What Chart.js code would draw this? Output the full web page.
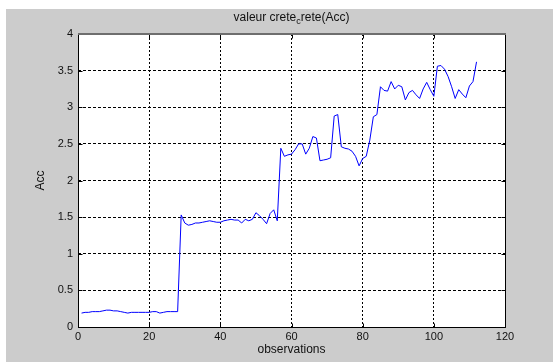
<!DOCTYPE html>
<html>
<head>
<meta charset="utf-8">
<script src="https://cdn.jsdelivr.net/npm/chart.js@4.4.1/dist/chart.umd.min.js"></script>
<style>
  html, body { margin: 0; padding: 0; background: #fff; }
  canvas { display: block; }
</style>
</head>
<body>
<canvas id="myChart" width="553" height="363"></canvas>
<script>
'use strict';

const observations = [
    1, 2, 3, 4, 5, 6, 7, 8, 9, 10, 11, 12, 13, 14, 15, 16, 17, 18, 19, 20,
    21, 22, 23, 24, 25, 26, 27, 28, 29, 30, 31, 32, 33, 34, 35, 36, 37, 38, 39, 40,
    41, 42, 43, 44, 45, 46, 47, 48, 49, 50, 51, 52, 53, 54, 55, 56, 57, 58, 59, 60,
    61, 62, 63, 64, 65, 66, 67, 68, 69, 70, 71, 72, 73, 74, 75, 76, 77, 78, 79, 80,
    81, 82, 83, 84, 85, 86, 87, 88, 89, 90, 91, 92, 93, 94, 95, 96, 97, 98, 99, 100,
    101, 102, 103, 104, 105, 106, 107, 108, 109, 110, 111, 112,
];

const acc = [
    0.19, 0.20, 0.20, 0.21, 0.21, 0.21, 0.22, 0.23, 0.23, 0.22,
    0.22, 0.21, 0.20, 0.19, 0.20, 0.20, 0.20, 0.20, 0.20, 0.20,
    0.21, 0.21, 0.19, 0.20, 0.21, 0.21, 0.21, 0.21,
    1.53, 1.42, 1.39, 1.40, 1.42, 1.42, 1.43, 1.44, 1.45, 1.44, 1.43, 1.43,
    1.45, 1.46, 1.47, 1.46, 1.46, 1.42, 1.47, 1.45, 1.47, 1.56,
    1.52, 1.47, 1.41, 1.55, 1.60, 1.45,
    2.44, 2.33, 2.35, 2.36, 2.42, 2.50, 2.50, 2.36, 2.44, 2.60, 2.58, 2.27, 2.28, 2.29,
    2.31, 2.88, 2.90, 2.46, 2.44, 2.43, 2.40, 2.33, 2.20, 2.30, 2.33, 2.55, 2.87, 2.90,
    3.28, 3.23, 3.22, 3.35, 3.25, 3.30, 3.28, 3.10, 3.20, 3.23, 3.17, 3.12, 3.25, 3.34, 3.24, 3.15,
    3.56, 3.57, 3.52, 3.42, 3.28, 3.12, 3.24, 3.18, 3.13, 3.29, 3.35, 3.62,
];

const xTicks = [0, 20, 40, 60, 80, 100, 120];
const yTicks = [0, 0.5, 1, 1.5, 2, 2.5, 3, 3.5, 4];

const FONT = '"Liberation Sans", Arial, sans-serif';

// grey figure window + white axes, like a matlab figure
const figureBackground = {
    id: 'figureBackground',
    beforeDraw(chart) {
        const { ctx, chartArea: a } = chart;
        ctx.save();
        ctx.fillStyle = '#ffffff';
        ctx.fillRect(0, 0, chart.width, chart.height);
        ctx.fillStyle = '#cccccc';
        ctx.fillRect(6, 9, chart.width - 6, chart.height - 10);
        ctx.fillStyle = '#ffffff';
        ctx.fillRect(a.left, a.top, a.right - a.left, a.bottom - a.top);
        ctx.restore();
    },
};

// box, inward ticks and the title with its subscript
const axesBox = {
    id: 'axesBox',
    afterDraw(chart) {
        const { ctx, chartArea: a, scales } = chart;
        const L = Math.round(a.left) + 0.5;
        const R = Math.round(a.right) + 0.5;
        const T = Math.round(a.top) + 0.5;
        const B = Math.round(a.bottom) + 0.5;
        const tl = 4;

        ctx.save();
        ctx.strokeStyle = '#000';
        ctx.lineWidth = 1;
        ctx.setLineDash([]);
        ctx.beginPath();
        ctx.moveTo(L, T); ctx.lineTo(L, B); ctx.lineTo(R, B); ctx.lineTo(R, T);
        xTicks.forEach(v => {
            const px = Math.round(scales.x.getPixelForValue(v)) + 0.5;
            ctx.moveTo(px, B); ctx.lineTo(px, B - tl);
            ctx.moveTo(px, T); ctx.lineTo(px, T + tl);
        });
        yTicks.forEach(v => {
            const py = Math.round(scales.y.getPixelForValue(v)) + 0.5;
            ctx.moveTo(L, py); ctx.lineTo(L + tl, py);
            ctx.moveTo(R, py); ctx.lineTo(R - tl, py);
        });
        ctx.stroke();

        ctx.strokeStyle = '#6e6e6e';
        ctx.lineWidth = 2;
        ctx.beginPath();
        ctx.moveTo(L - 0.5, T - 0.5); ctx.lineTo(R + 0.5, T - 0.5);
        ctx.stroke();

        // "valeur crete_crete(Acc)" -> matlab turned _c into a subscript
        const part1 = 'valeur crete';
        const sub = 'c';
        const part2 = 'rete(Acc)';
        ctx.fillStyle = '#111';
        ctx.textBaseline = 'alphabetic';
        ctx.textAlign = 'left';
        ctx.font = '12px ' + FONT;
        const w1 = ctx.measureText(part1).width;
        const w3 = ctx.measureText(part2).width;
        ctx.font = '9px ' + FONT;
        const w2 = ctx.measureText(sub).width;
        let x = (a.left + a.right) / 2 - (w1 + w2 + w3) / 2;
        ctx.font = '12px ' + FONT;
        ctx.fillText(part1, x, 21);
        x += w1;
        ctx.font = '9px ' + FONT;
        ctx.fillText(sub, x, 24);
        x += w2;
        ctx.font = '12px ' + FONT;
        ctx.fillText(part2, x, 21);
        ctx.restore();
    },
};

const data = {
    datasets: [
        {
            label: 'Acc',
            data: observations.map((o, i) => ({ x: o, y: acc[i] })),
            borderColor: 'rgb(0, 0, 255)',
            borderWidth: 1,
            pointRadius: 0,
            tension: 0,
            fill: false,
        },
    ],
};

const myChart = new Chart(document.getElementById('myChart'), {
    type: 'line',
    data: data,
    plugins: [figureBackground, axesBox],
    options: {
        responsive: false,
        animation: false,
        devicePixelRatio: 1,
        layout: {
            padding: { top: 34, right: 48, left: 0, bottom: 0 },
        },
        plugins: {
            legend: { display: false },
            tooltip: { enabled: false },
            title: { display: false },
        },
        scales: {
            x: {
                type: 'linear',
                min: 0,
                max: 120,
                afterFit: scale => { scale.height = 36; },
                afterBuildTicks: scale => {
                    scale.ticks = xTicks.map(v => ({ value: v }));
                },
                grid: {
                    color: '#000',
                    lineWidth: 1,
                    drawTicks: false,
                },
                border: { display: false, dash: [2, 2] },
                ticks: {
                    padding: 3,
                    color: '#111',
                    font: { family: FONT, size: 11 },
                    callback: value => String(value),
                },
                title: {
                    display: true,
                    text: 'observations',
                    color: '#111',
                    font: { family: FONT, size: 12 },
                    padding: { top: 0, bottom: 6 },
                },
            },
            y: {
                type: 'linear',
                min: 0,
                max: 4,
                afterFit: scale => { scale.width = 78; },
                afterBuildTicks: scale => {
                    scale.ticks = yTicks.map(v => ({ value: v }));
                },
                grid: {
                    color: '#000',
                    lineWidth: 1,
                    drawTicks: false,
                },
                border: { display: false, dash: [3, 2] },
                ticks: {
                    padding: 5,
                    color: '#111',
                    font: { family: FONT, size: 11 },
                    callback: value => String(value),
                },
                title: {
                    display: true,
                    text: 'Acc',
                    color: '#111',
                    font: { family: FONT, size: 12 },
                    padding: { top: 33, bottom: 0 },
                },
            },
        },
    },
});
</script>
</body>
</html>
